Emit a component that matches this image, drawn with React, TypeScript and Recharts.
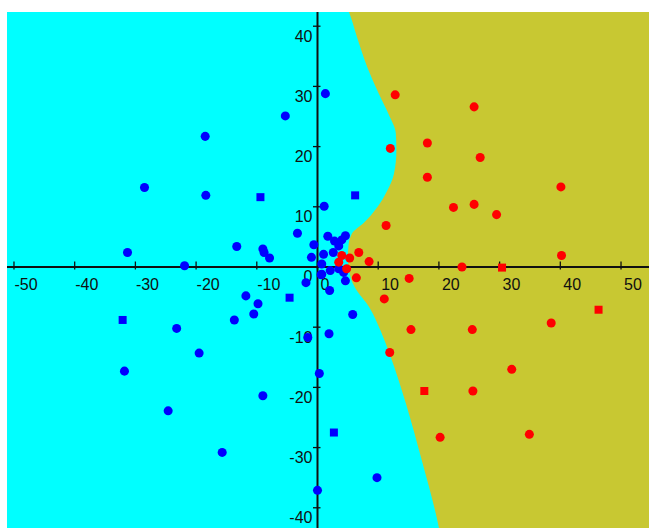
import React from 'react';
import { ComposedChart, Area, Scatter, XAxis, YAxis, ReferenceLine, ReferenceDot } from 'recharts';

const xTicks = [-50, -40, -30, -20, -10, 0, 10, 20, 30, 40, 50];
const yTicks = [-40, -30, -20, -10, 0, 10, 20, 30, 40];

// class boundary, read top to bottom as [x, y]; olive lies to the right of it
const boundary: [number, number][] = [
  [5.0, 42.8], [5.2, 42.3], [6.5, 38.2], [8.2, 33.2], [10.1, 28.8], [11.7, 25.4],
  [12.9, 22.2], [13.0, 19.4], [12.6, 15.5], [11.5, 12.7], [9.9, 10.0], [7.6, 7.3],
  [5.7, 5.6], [5.1, 3.5], [5.0, 1.5], [5.2, -0.5], [5.6, -2.2], [6.1, -3.3],
  [8.6, -6.8], [10.4, -10.6], [11.9, -14.5], [13.3, -18.6], [14.6, -22.8],
  [17.2, -32.2], [20.0, -43.3], [20.1, -43.8],
];

const bluePoints: [number, number][] = [
  [1.3, 28.8], [-5.3, 25.1], [-18.5, 21.7], [-28.5, 13.2], [-18.4, 11.9], [1.1, 10.1],
  [-3.3, 5.6], [1.7, 5.1], [-0.6, 3.7], [-13.3, 3.4], [-9.0, 3.0], [-8.8, 2.4],
  [-7.9, 1.5], [-1.0, 1.6], [-31.3, 2.4], [-21.9, 0.2], [-1.9, -2.6], [0.6, -1.3],
  [2.0, -3.9], [-11.8, -4.8], [-9.8, -6.1], [-10.5, -7.8], [-13.7, -8.8], [-23.2, -10.2],
  [-1.6, -11.7], [1.9, -11.1], [-19.5, -14.3], [-31.8, -17.3], [0.3, -17.7], [-9.0, -21.4],
  [-24.6, -23.9], [-15.7, -30.8], [0.0, -37.1], [5.8, -7.9], [9.8, -35.0],
  [3.5, 3.5], [4.6, 5.2], [2.6, 2.4], [1.0, 2.1], [0.7, 0.5], [2.1, -0.6], [0.7, -1.2],
  [4.6, -2.3], [3.5, -0.3], [4.3, -0.9], [2.8, 4.3], [4.0, 4.5],
];
const blueSquares: [number, number][] = [
  [-9.4, 11.6], [6.2, 11.9], [-4.6, -5.1], [-32.1, -8.8], [2.7, -27.5],
];

const redPoints: [number, number][] = [
  [12.8, 28.6], [25.8, 26.6], [18.1, 20.6], [12.0, 19.7], [26.8, 18.2], [18.1, 14.9],
  [40.1, 13.3], [22.4, 9.9], [25.8, 10.4], [29.5, 8.7], [11.3, 6.9], [40.2, 1.9],
  [23.8, 0.0], [8.5, 0.9], [6.8, 2.4], [5.3, 1.5], [4.0, 1.9], [3.5, 0.8], [4.8, -0.3],
  [6.4, -1.8], [15.1, -1.9], [11.0, -5.3], [15.4, -10.4], [25.5, -10.4], [38.5, -9.3],
  [11.9, -14.2], [32.0, -17.0], [25.6, -20.6], [20.2, -28.3], [34.9, -27.8],
];
const redSquares: [number, number][] = [[30.4, -0.1], [46.3, -7.1], [17.6, -20.6]];

const toXY = (pts: [number, number][]) => pts.map(([x, y]) => ({ x, y }));

const FONT = '"Liberation Sans", Arial, sans-serif';
const INK = '#101010';

const xTick = (value: number) => (p: any) => (
  <g>
    <line x1={p.cx} y1={p.cy - 5.5} x2={p.cx} y2={p.cy + 2.5} stroke={INK} strokeWidth={1.3} />
    <text x={p.cx + (value < 0 ? 0.5 : 3)} y={p.cy + 23} fontSize={16} fontFamily={FONT} fill={INK} textAnchor="start">
      {value}
    </text>
  </g>
);

const yTick = (value: number) => (p: any) => (
  <g>
    <line x1={p.cx - 4.5} y1={p.cy} x2={p.cx + 3} y2={p.cy} stroke={INK} strokeWidth={1.3} />
    <text x={p.cx - 5} y={p.cy + 15.5} fontSize={16} fontFamily={FONT} fill={INK} textAnchor="end">
      {value}
    </text>
  </g>
);

export default function App() {
  return (
    <div style={{ position: 'absolute', left: 7, top: 12, width: 642, height: 516, background: '#00FFFF' }}>
      <ComposedChart width={642} height={516} layout="vertical" margin={{ top: 0, right: 0, bottom: 0, left: 0 }}>
        <XAxis type="number" dataKey="x" domain={[-51.15, 54.61]} allowDataOverflow hide />
        <YAxis type="number" dataKey="y" domain={[-43.36, 42.36]} allowDataOverflow reversed hide />
        <Area
          data={toXY(boundary)}
          dataKey="x"
          baseValue="dataMax"
          type="monotone"
          fill="#C8C832"
          fillOpacity={1}
          stroke="none"
          dot={false}
          activeDot={false}
          isAnimationActive={false}
        />
        <ReferenceLine y={0} stroke={INK} strokeWidth={2} />
        <ReferenceLine x={0} stroke={INK} strokeWidth={2} />
        {xTicks.map((t) => (
          <ReferenceDot key={`xt${t}`} x={t} y={0} r={1} shape={xTick(t)} />
        ))}
        {yTicks.map((t) => (
          <ReferenceDot key={`yt${t}`} x={0} y={t} r={1} shape={yTick(t)} />
        ))}
        <Scatter data={toXY(bluePoints)} fill="#0000FF" shape="circle" isAnimationActive={false} />
        <Scatter data={toXY(blueSquares)} fill="#0000FF" shape="square" isAnimationActive={false} />
        <Scatter data={toXY(redPoints)} fill="#FF0000" shape="circle" isAnimationActive={false} />
        <Scatter data={toXY(redSquares)} fill="#FF0000" shape="square" isAnimationActive={false} />
      </ComposedChart>
    </div>
  );
}
